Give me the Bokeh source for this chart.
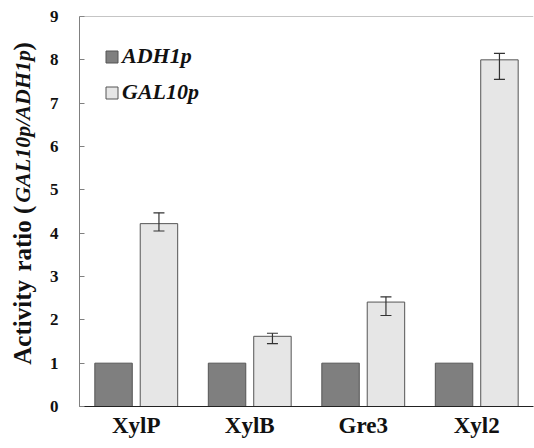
from bokeh.plotting import figure
from bokeh.layouts import row
from bokeh.models import (ColumnDataSource, FactorRange, Range1d, FixedTicker, Whisker, TeeHead,
                          Legend, LegendItem, Span)
from bokeh.transform import dodge
from bokeh.core.properties import value
from bokeh.embed import file_html
from bokeh.resources import INLINE

genes = ["XylP", "XylB", "Gre3", "Xyl2"]
adh1p = [1.0, 1.0, 1.0, 1.0]
gal10p = [4.22, 1.62, 2.41, 8.0]
gal10p_upper = [4.47, 1.69, 2.53, 8.15]
gal10p_lower = [4.05, 1.45, 2.10, 7.55]
y_ticks = [0, 1, 2, 3, 4, 5, 6, 7, 8, 9]
series_names = ["ADH1p", "GAL10p"]
title_parts = ["Activity", "ratio (", "GAL10p/ADH1p", ")"]

SERIF = "Times New Roman, Liberation Serif, Tinos, serif"
H = 448
LEFT_W = 40

src = ColumnDataSource(dict(gene=genes, adh=adh1p, gal=gal10p, up=gal10p_upper, lo=gal10p_lower))

# --- left strip holding the mixed-style y-axis title ---
t = figure(width=LEFT_W, height=H, x_range=Range1d(0, LEFT_W), y_range=Range1d(0, H),
           output_backend="svg", toolbar_location=None, x_axis_type=None, y_axis_type=None,
           min_border=0, min_border_left=0, min_border_right=0, min_border_top=0, min_border_bottom=0)
t.outline_line_color = None
t.grid.visible = False
part_style = [(48, "bold", "25px"), (155, "bold", "25px"), (234, "bold italic", "22px"), (409, "bold", "25px")]
for txt, (ypos, style, size) in zip(title_parts, part_style):
    t.text(x=[22], y=[ypos], text=[txt], angle=1.5707963, text_align="left",
           text_baseline="middle", text_font=value(SERIF), text_font_style=style,
           text_font_size=size, text_color="#111111")

# --- main chart ---
p = figure(width=534 - LEFT_W, height=H, x_range=FactorRange(*genes, range_padding=0),
           y_range=Range1d(0, 9), output_backend="svg", toolbar_location=None,
           min_border_left=79 - LEFT_W, min_border_right=1, min_border_top=16, min_border_bottom=42)
p.x_range.range_padding = 0
p.outline_line_color = None
p.grid.visible = False

r1 = p.vbar(x=dodge("gene", -0.2, range=p.x_range), top="adh", width=0.33, source=src,
            fill_color="#7f7f7f", line_color="#555555", line_width=1)
r2 = p.vbar(x=dodge("gene", 0.2, range=p.x_range), top="gal", width=0.33, source=src,
            fill_color="#e6e6e6", line_color="#555555", line_width=1)

w = Whisker(base=dodge("gene", 0.2, range=p.x_range), upper="up", lower="lo", source=src,
            line_color="#333333", line_width=1.2, level="overlay")
w.upper_head = TeeHead(size=11, line_color="#333333", line_width=1.2)
w.lower_head = TeeHead(size=11, line_color="#333333", line_width=1.2)
p.add_layout(w)

p.add_layout(Span(location=9, dimension="width", line_color="#8c8c8c", line_width=1))

p.yaxis.ticker = FixedTicker(ticks=y_ticks)
p.yaxis.axis_line_color = "#808080"
p.yaxis.major_tick_in = 5
p.yaxis.major_tick_out = 0
p.yaxis.major_tick_line_color = "#808080"
p.yaxis.minor_tick_line_color = None
p.yaxis.major_label_text_font = SERIF
p.yaxis.major_label_text_font_style = "bold"
p.yaxis.major_label_text_font_size = "17px"
p.yaxis.major_label_text_color = "#111111"
p.yaxis.major_label_standoff = 21

p.xaxis.axis_line_color = "#222222"
p.xaxis.major_tick_line_color = None
p.xaxis.minor_tick_line_color = None
p.xaxis.major_label_text_font = SERIF
p.xaxis.major_label_text_font_style = "bold"
p.xaxis.major_label_text_font_size = "23px"
p.xaxis.major_label_text_color = "#111111"
p.xaxis.major_label_standoff = 0

legend = Legend(items=[LegendItem(label=series_names[0], renderers=[r1]),
                       LegendItem(label=series_names[1], renderers=[r2])],
                location=(25, 301), padding=0, margin=0, spacing=10,
                glyph_width=15, glyph_height=15, label_standoff=3,
                label_text_font=SERIF, label_text_font_style="bold italic",
                label_text_font_size="22px", label_text_color="#111111",
                border_line_color=None, background_fill_alpha=0)
p.add_layout(legend)

layout = row(t, p)
open("out.html", "w").write(file_html(layout, INLINE))
